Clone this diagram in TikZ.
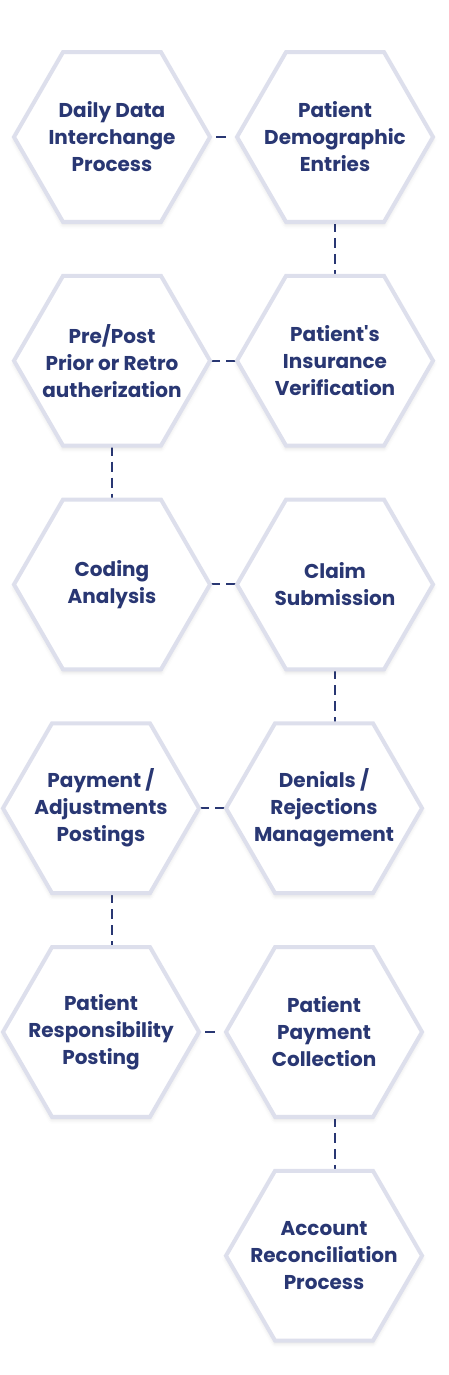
\documentclass[tikz,border=0pt]{standalone}
\usepackage{fontspec}
\setmainfont{Poppins}
\definecolor{hexnavy}{RGB}{41, 55, 115}
\definecolor{hexline}{RGB}{221, 223, 236}
\usetikzlibrary{
  backgrounds,
  positioning,
  shadows.blur,
  shapes.geometric,
}
\tikzset{
  hexcell/.style={draw=hexline,line width=4pt,fill=white,regular polygon,regular polygon sides=6,
    minimum size=196pt,inner sep=0pt,outer sep=0pt,
    blur shadow={shadow xshift=0pt,shadow yshift=-3pt,shadow opacity=12,shadow blur radius=4pt},
    label={[hextext]center:#1}},
  hextext/.style={align=center,inner sep=0pt,text=hexnavy,font=\fontsize{20}{27}\selectfont\bfseries},
  link/.style={draw=hexnavy,line width=2pt,dash pattern=on 10pt off 6pt},
  shortlink/.style={link,dash pattern=on 10pt off 14pt,dash phase=18pt},
}

\begin{document}
\begin{tikzpicture}[x=1pt,y=-1pt,node distance=54pt and 27pt]

        \useasboundingbox (0,0) rectangle (449,1375);

        \node[hexcell={Daily Data\\Interchange\\Process}]    (h0)    at (112,137)      {};
        \node[hexcell={Patient\\Demographic\\Entries}]    (h1)    [right=of h0]     {};
        \node[hexcell={Pre/Post\\Prior or Retro\\autherization}]    (h2)    [below=of h0]     {};
        \node[hexcell={Patient\textquotesingle s\\Insurance\\Verification}]    (h3)    [right=of h2]     {};
        \node[hexcell={Coding\\Analysis}]    (h4)    [below=of h2]     {};
        \node[hexcell={Claim\\Submission}]    (h5)    [right=of h4]     {};

        \node[hexcell={Payment /\\Adjustments\\Postings},xshift=-11pt]    (h6)    [below=of h4]     {};
        \node[hexcell={Denials /\\Rejections\\Management}]    (h7)    [right=of h6]     {};
        \node[hexcell={Patient\\Responsibility\\Posting}]    (h8)    [below=of h6]     {};
        \node[hexcell={Patient\\Payment\\Collection}]    (h9)    [right=of h8]     {};
        \node[hexcell={Account\\Reconciliation\\Process}]    (h10)   [below=of h9]     {};

        \begin{scope}[on background layer]
        \draw[shortlink] (h0.east) -- (h1.west);
        \draw[link] (h1.south) -- (h3.north);
        \draw[link] (h2.east) -- (h3.west);
        \draw[link] (h2.south) -- (h4.north);
        \draw[link] (h4.east) -- (h5.west);
        \draw[link] (h5.south) -- (h5.south |- h7.north);
        \draw[link] (h6.east) -- (h7.west);
        \draw[link] (h4.south |- h6.south) -- (h4.south |- h8.north);
        \draw[shortlink] (h8.east) -- (h9.west);
        \draw[link] (h5.south |- h9.south) -- (h5.south |- h10.north);
        \end{scope}

    \end{tikzpicture}
\end{document}
